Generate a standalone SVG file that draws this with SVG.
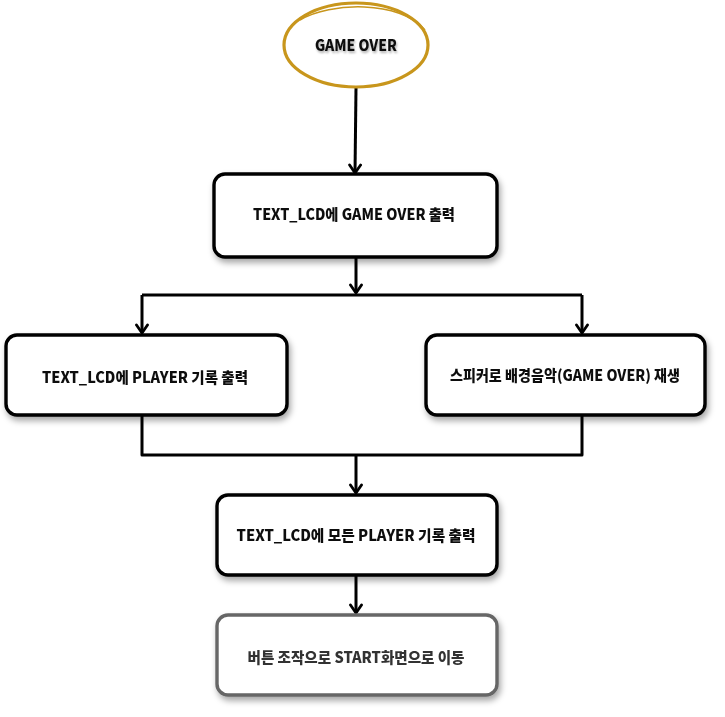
<svg xmlns="http://www.w3.org/2000/svg" width="725" height="717" viewBox="0 0 725 717">
<defs>
<style>
.box{fill:#fff;stroke:#000;stroke-width:3.4;stroke-linejoin:round}
.gray{stroke:#666}
.ell{fill:#fff;stroke:#c8961c;stroke-width:3.2}
.lbl{font-family:"Noto Sans CJK KR","Noto Sans",sans-serif;font-weight:900;font-size:15px;fill:#111;text-anchor:middle}
.g{fill:#333}
.con{fill:none;stroke:#000;stroke-width:3;stroke-linejoin:round}
</style>
<filter id="sh" x="-10%" y="-20%" width="125%" height="150%">
<feDropShadow dx="2" dy="4" stdDeviation="3" flood-color="#000" flood-opacity="0.35"/>
</filter>
<filter id="tsh" x="-5%" y="-30%" width="110%" height="180%">
<feDropShadow dx="1" dy="2" stdDeviation="1.2" flood-color="#000" flood-opacity="0.3"/>
</filter>
<marker id="arr" viewBox="0 0 12 14" refX="11" refY="7" markerWidth="12" markerHeight="14" markerUnits="userSpaceOnUse" orient="auto">
<path d="M3,1.5 L11,7 L3,12.5" fill="none" stroke="#000" stroke-width="2.8" stroke-linejoin="round" stroke-linecap="round"/>
</marker>
</defs>
<rect width="725" height="717" fill="#fff"/>
<g id="connectors">
<path class="con" d="M356,88 L355,173" marker-end="url(#arr)"/>
<path class="con" d="M356,257 L356,293" marker-end="url(#arr)"/>
<path class="con" d="M142,295 L582,295"/>
<path class="con" d="M142,295 L142,333" marker-end="url(#arr)"/>
<path class="con" d="M582,295 L582,333" marker-end="url(#arr)"/>
<path class="con" d="M142,415 L142,455 L582,455 L582,415"/>
<path class="con" d="M356,455 L356,493" marker-end="url(#arr)"/>
<path class="con" d="M356,575 L356,613" marker-end="url(#arr)"/>
</g>
<g id="n-start">
<ellipse class="ell" cx="356" cy="45" rx="72" ry="42"/>
<path d="M300,20 C330,2 400,0 425,30" fill="none" stroke="#c8961c" stroke-width="1.5"/>
<text class="lbl" x="356" y="51" textLength="82" lengthAdjust="spacingAndGlyphs" filter="url(#tsh)">GAME OVER</text>
</g>
<g id="n-lcd-gameover" filter="url(#sh)">
<rect class="box" x="214" y="174" width="283" height="83" rx="11"/>
<text class="lbl" x="354" y="220" textLength="202" lengthAdjust="spacingAndGlyphs">TEXT_LCD에 GAME OVER 출력</text>
</g>
<g id="n-lcd-player" filter="url(#sh)">
<rect class="box" x="6" y="335" width="281" height="80" rx="11"/>
<text class="lbl" x="145" y="383" textLength="206" lengthAdjust="spacingAndGlyphs">TEXT_LCD에 PLAYER 기록 출력</text>
</g>
<g id="n-speaker" filter="url(#sh)">
<rect class="box" x="426" y="335" width="279" height="80" rx="11"/>
<text class="lbl" x="565" y="381" textLength="230" lengthAdjust="spacingAndGlyphs">스피커로 배경음악(GAME OVER) 재생</text>
</g>
<g id="n-lcd-all" filter="url(#sh)">
<rect class="box" x="217" y="495" width="280" height="80" rx="11"/>
<text class="lbl" x="356" y="541" textLength="239" lengthAdjust="spacingAndGlyphs">TEXT_LCD에 모든 PLAYER 기록 출력</text>
</g>
<g id="n-button" filter="url(#sh)">
<rect class="box gray" x="217" y="615" width="280" height="80" rx="11"/>
<text class="lbl g" x="356" y="663" textLength="217" lengthAdjust="spacingAndGlyphs">버튼 조작으로 START화면으로 이동</text>
</g>
</svg>
